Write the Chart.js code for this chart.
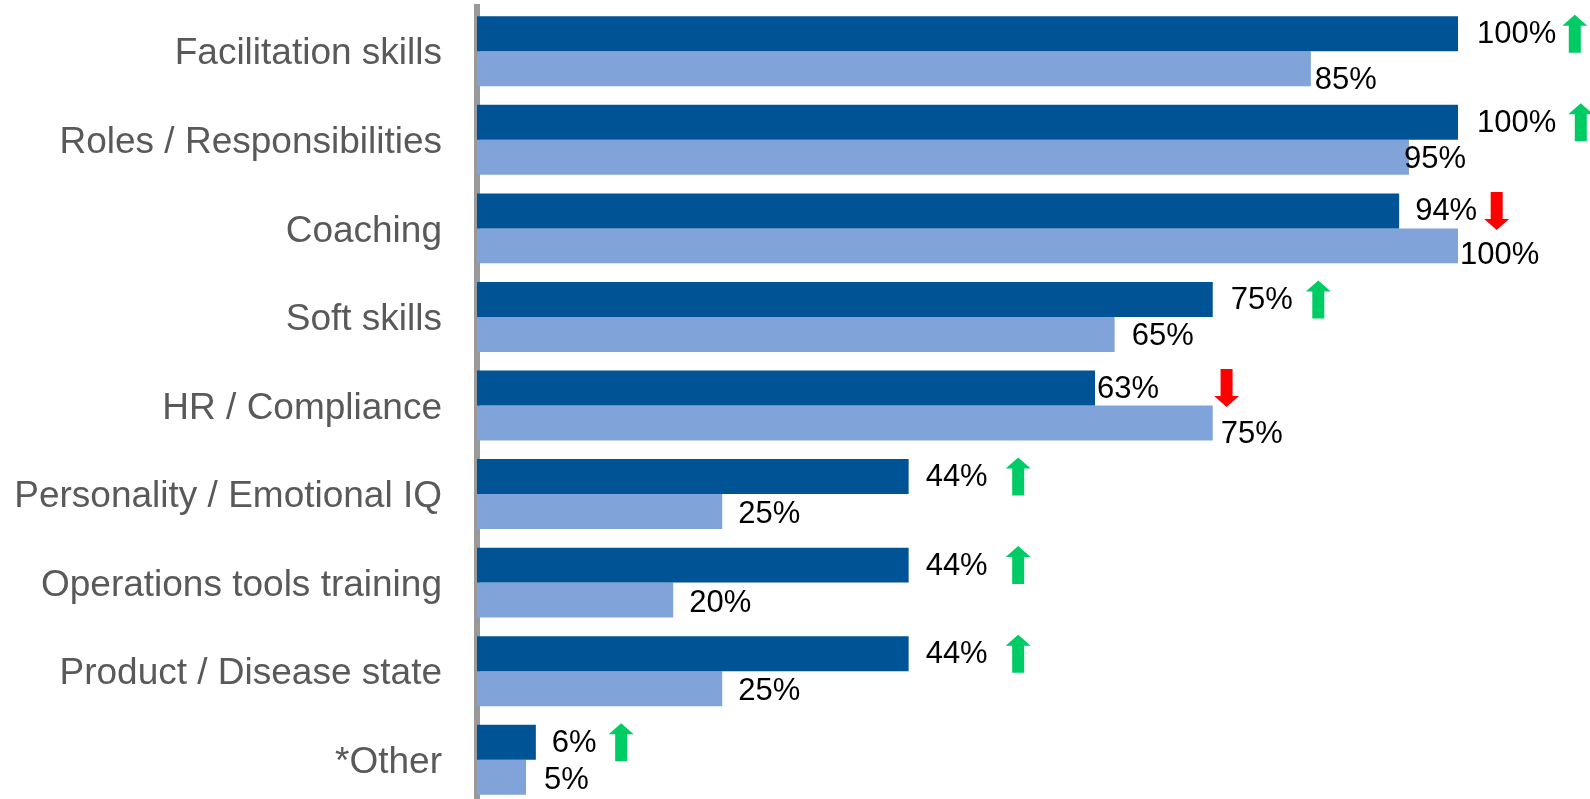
<!DOCTYPE html>
<html>
<head>
<meta charset="utf-8">
<title>Training topics</title>
<script src="https://cdn.jsdelivr.net/npm/chart.js@4"></script>
<style>
  html, body { margin: 0; padding: 0; background: #fff; overflow: hidden; }
  #chart { display: block; }
</style>
</head>
<body>
<canvas id="chart" width="1590" height="804"></canvas>
<script>
// Categories and the two survey waves (percent)
const topics = [
    'Facilitation skills',
    'Roles / Responsibilities',
    'Coaching',
    'Soft skills',
    'HR / Compliance',
    'Personality / Emotional IQ',
    'Operations tools training',
    'Product / Disease state',
    '*Other'
];
const currentWave = [100, 100, 94, 75, 63, 44, 44, 44, 6];
const previousWave = [85, 95, 100, 65, 75, 25, 20, 25, 5];

// Label placement tweaks (pixels) on top of the default gap after each bar
const currentLabelDx = [2, 2, -1, 1, -15, 0, 0, 0, -1];
const previousLabelDx = [-13, -22, -15, 0, -9, -1, -1, -1, 1];
const previousLabelDy = [11, 1, 9, 1, 10, 2, 2, 2, 2];
// Space between the current-wave label and its trend arrow
const arrowGap = [6, 12, 7, 13, 55, 18, 18, 18, 12];

const FONT = '"Liberation Sans", Arial, sans-serif';
const LABEL_GAP = 17;

function drawArrow(ctx, x, cy, up, color) {
    const w = 25, h = 38, shaft = 12, head = 11;
    const top = cy - h / 2, bottom = cy + h / 2;
    const sx = x + (w - shaft) / 2;
    ctx.fillStyle = color;
    ctx.beginPath();
    if (up) {
        ctx.moveTo(x + w / 2, top);
        ctx.lineTo(x + w, top + head);
        ctx.lineTo(sx + shaft, top + head);
        ctx.lineTo(sx + shaft, bottom);
        ctx.lineTo(sx, bottom);
        ctx.lineTo(sx, top + head);
        ctx.lineTo(x, top + head);
    } else {
        ctx.moveTo(sx, top);
        ctx.lineTo(sx + shaft, top);
        ctx.lineTo(sx + shaft, bottom - head);
        ctx.lineTo(x + w, bottom - head);
        ctx.lineTo(x + w / 2, bottom);
        ctx.lineTo(x, bottom - head);
        ctx.lineTo(sx, bottom - head);
    }
    ctx.closePath();
    ctx.fill();
}

const valueLabels = {
    id: 'valueLabels',
    afterDatasetsDraw(chart) {
        const ctx = chart.ctx;
        ctx.save();
        ctx.font = '31px ' + FONT;
        ctx.textAlign = 'left';
        ctx.textBaseline = 'middle';

        const cur = chart.getDatasetMeta(0).data;
        const prev = chart.getDatasetMeta(1).data;

        cur.forEach((bar, i) => {
            const text = currentWave[i] + '%';
            const x = bar.x + LABEL_GAP + currentLabelDx[i];
            ctx.fillStyle = '#000';
            ctx.fillText(text, x, bar.y + 1);
            const end = x + ctx.measureText(text).width;
            const up = currentWave[i] > previousWave[i];
            drawArrow(ctx, end + arrowGap[i], bar.y, up, up ? '#00CC66' : '#FF0000');
        });

        prev.forEach((bar, i) => {
            ctx.fillStyle = '#000';
            ctx.fillText(previousWave[i] + '%',
                bar.x + LABEL_GAP + previousLabelDx[i],
                bar.y + 1 + previousLabelDy[i]);
        });
        ctx.restore();
    }
};

new Chart(document.getElementById('chart'), {
    type: 'bar',
    data: {
        labels: topics,
        datasets: [
            { label: 'Current', data: currentWave, backgroundColor: '#005496' },
            { label: 'Previous', data: previousWave, backgroundColor: '#80A3D9' }
        ]
    },
    options: {
        indexAxis: 'y',
        responsive: false,
        animation: false,
        devicePixelRatio: 1,
        layout: { padding: { top: 7, right: 132, bottom: 0, left: 0 } },
        datasets: { bar: { categoryPercentage: 0.79, barPercentage: 1.0 } },
        scales: {
            x: { display: false, min: 0, max: 100 },
            y: {
                afterFit(scale) {
                    // fixed label column; no extra vertical room for the tick text
                    scale.width = 477;
                    scale.paddingTop = 0;
                    scale.paddingBottom = 0;
                },
                grid: { display: false, drawTicks: false },
                // half of this line sits under the bars, leaving a 3px rule
                border: { display: true, color: '#999999', width: 6 },
                ticks: {
                    padding: 35,
                    labelOffset: 3,
                    color: '#595959',
                    font: { family: FONT, size: 37 }
                }
            }
        },
        plugins: {
            legend: { display: false },
            tooltip: { enabled: false }
        }
    },
    plugins: [valueLabels]
});
</script>
</body>
</html>
